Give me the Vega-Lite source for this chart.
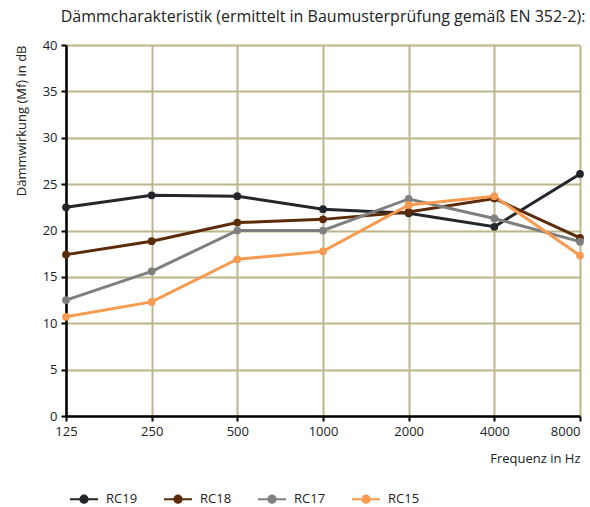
{
  "$schema": "https://vega.github.io/schema/vega-lite/v6.json",
  "width": 514,
  "height": 371,
  "autosize": {"type": "none"},
  "padding": {"left": 66, "top": 45, "right": 10, "bottom": 91},
  "background": "white",
  "title": {
    "text": "Dämmcharakteristik (ermittelt in Baumusterprüfung gemäß EN 352-2):",
    "font": "Open Sans",
    "fontSize": 16,
    "fontWeight": "normal",
    "color": "#222222",
    "anchor": "middle",
    "offset": 14
  },
  "config": {
    "view": {"stroke": null},
    "font": "Open Sans"
  },
  "data": {
    "values": [
      {"freq": "125", "series": "RC19", "value": 22.5},
      {"freq": "250", "series": "RC19", "value": 23.8},
      {"freq": "500", "series": "RC19", "value": 23.7},
      {"freq": "1000", "series": "RC19", "value": 22.3},
      {"freq": "2000", "series": "RC19", "value": 21.85},
      {"freq": "4000", "series": "RC19", "value": 20.4},
      {"freq": "8000", "series": "RC19", "value": 26.1},
      {"freq": "125", "series": "RC18", "value": 17.4},
      {"freq": "250", "series": "RC18", "value": 18.85},
      {"freq": "500", "series": "RC18", "value": 20.85},
      {"freq": "1000", "series": "RC18", "value": 21.2},
      {"freq": "2000", "series": "RC18", "value": 22.0},
      {"freq": "4000", "series": "RC18", "value": 23.45},
      {"freq": "8000", "series": "RC18", "value": 19.2},
      {"freq": "125", "series": "RC17", "value": 12.5},
      {"freq": "250", "series": "RC17", "value": 15.6},
      {"freq": "500", "series": "RC17", "value": 20.0},
      {"freq": "1000", "series": "RC17", "value": 20.0},
      {"freq": "2000", "series": "RC17", "value": 23.4},
      {"freq": "4000", "series": "RC17", "value": 21.3},
      {"freq": "8000", "series": "RC17", "value": 18.8},
      {"freq": "125", "series": "RC15", "value": 10.7},
      {"freq": "250", "series": "RC15", "value": 12.3},
      {"freq": "500", "series": "RC15", "value": 16.9},
      {"freq": "1000", "series": "RC15", "value": 17.75},
      {"freq": "2000", "series": "RC15", "value": 22.75},
      {"freq": "4000", "series": "RC15", "value": 23.7},
      {"freq": "8000", "series": "RC15", "value": 17.3}
    ]
  },
  "encoding": {
    "x": {
      "field": "freq",
      "type": "ordinal",
      "sort": ["125", "250", "500", "1000", "2000", "4000", "8000"],
      "scale": {"type": "point", "padding": 0},
      "axis": {
        "title": "Frequenz in Hz",
        "titleAnchor": "end",
        "titleFont": "Open Sans",
        "titleFontSize": 13,
        "titleFontWeight": "normal",
        "titleColor": "#222222",
        "titlePadding": 14,
        "labelFont": "Open Sans",
        "labelFontSize": 13,
        "labelColor": "#222222",
        "labelAngle": 0,
        "labelPadding": 4,
        "labelOverlap": false,
        "labelAlign": {"condition": {"test": "datum.value == '8000'", "value": "right"}, "value": "center"},
        "domainColor": "#000000",
        "domainWidth": 2.5,
        "tickColor": "#000000",
        "tickWidth": 2,
        "tickSize": 5,
        "grid": true,
        "gridColor": "#bdb58a",
        "gridWidth": 2
      }
    },
    "y": {
      "field": "value",
      "type": "quantitative",
      "scale": {"domain": [0, 40], "nice": false, "zero": true},
      "axis": {
        "title": "Dämmwirkung (Mf) in dB",
        "titleAnchor": "end",
        "titleFont": "Open Sans",
        "titleFontSize": 13,
        "titleFontWeight": "normal",
        "titleColor": "#222222",
        "titlePadding": 14,
        "labelFont": "Open Sans",
        "labelFontSize": 13,
        "labelColor": "#222222",
        "labelPadding": 4,
        "values": [0, 5, 10, 15, 20, 25, 30, 35, 40],
        "domainColor": "#000000",
        "domainWidth": 2.5,
        "tickColor": "#000000",
        "tickWidth": 2,
        "tickSize": 5,
        "grid": true,
        "gridColor": "#bdb58a",
        "gridWidth": 2
      }
    },
    "color": {
      "field": "series",
      "type": "nominal",
      "scale": {
        "domain": ["RC19", "RC18", "RC17", "RC15"],
        "range": ["#23272b", "#5c2c0a", "#7f7f7f", "#f89a50"]
      },
      "legend": {
        "title": null,
        "orient": "none",
        "direction": "horizontal",
        "legendX": 3,
        "legendY": 439,
        "padding": 0,
        "symbolType": "M-1,0H1M0.26,0A0.26,0.26 0 1,1 -0.26,0A0.26,0.26 0 1,1 0.26,0",
        "symbolSize": 784,
        "symbolStrokeWidth": 2,
        "labelFont": "Open Sans",
        "labelFontSize": 13,
        "labelColor": "#222222",
        "labelOffset": 7,
        "columnPadding": 22
      }
    }
  },
  "layer": [
    {"mark": {"type": "line", "strokeWidth": 3}},
    {"mark": {"type": "point", "filled": true, "size": 60, "opacity": 1}}
  ]
}
